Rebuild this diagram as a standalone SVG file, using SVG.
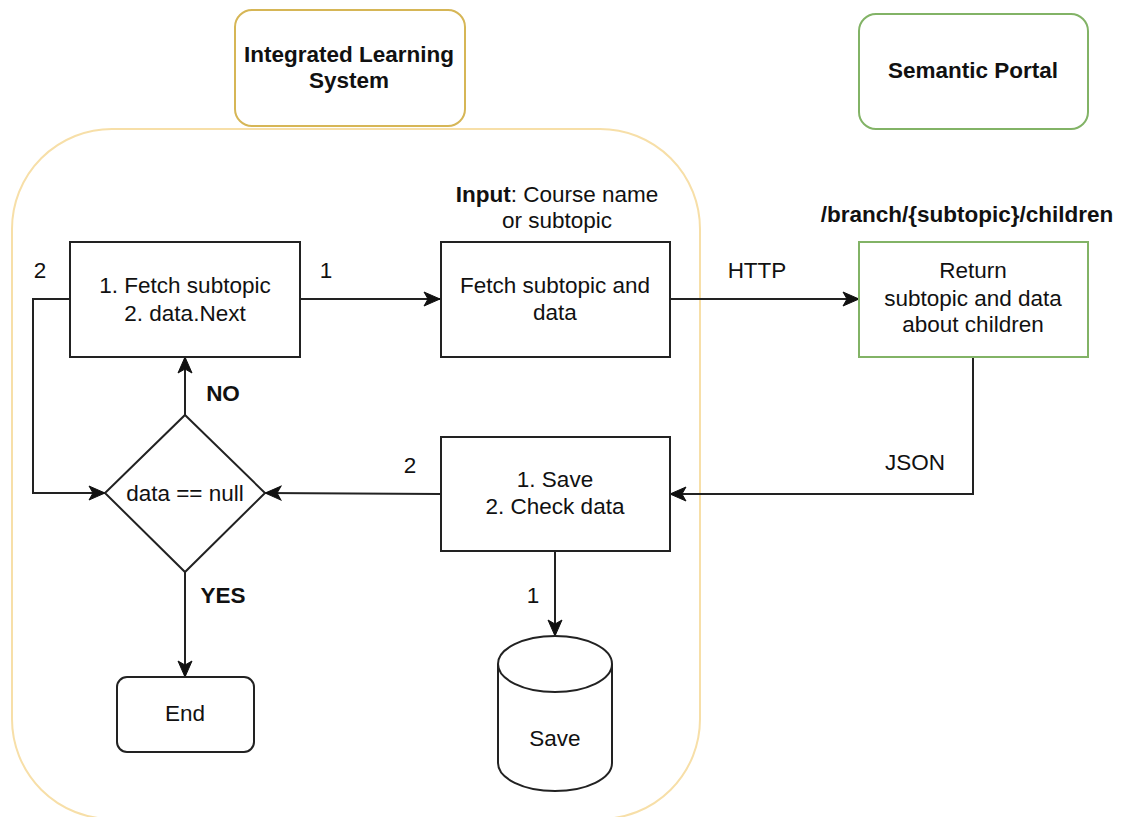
<svg xmlns="http://www.w3.org/2000/svg" width="1121" height="817" viewBox="0 0 1121 817">
  <style>
    text { font-family: "Liberation Sans", Arial, sans-serif; font-size: 22.5px; fill: #111; text-anchor: middle; }
    .b { font-weight: bold; }
    .box { fill: #fff; stroke: #222; stroke-width: 2; }
    .green { fill: #fff; stroke: #82b366; stroke-width: 2; }
    .gold { fill: #fff; stroke: #d6b656; stroke-width: 2; }
    .edge { fill: none; stroke: #222; stroke-width: 2; }
  </style>
  <defs>
    <marker id="arr" markerUnits="userSpaceOnUse" markerWidth="18" markerHeight="16" viewBox="0 0 18 16" refX="17" refY="8" orient="auto">
      <path d="M1,1 L17,8 L1,15 L5,8 Z" fill="#111" stroke="#111" stroke-width="1"/>
    </marker>
  </defs>
  <rect width="1121" height="817" fill="#fff"/>

  <g id="container">
    <rect x="12" y="129" width="688" height="690" rx="100" ry="100" fill="none" stroke="#f7dfa8" stroke-width="2"/>
  </g>

  <g id="ils-title">
    <rect class="gold" x="235" y="10" width="230" height="116" rx="17"/>
    <text class="b" x="349" y="62">Integrated Learning</text>
    <text class="b" x="349" y="88">System</text>
  </g>

  <g id="semantic-portal">
    <rect class="green" x="859" y="14" width="229" height="115" rx="17"/>
    <text class="b" x="973" y="78">Semantic Portal</text>
  </g>

  <g id="connectors">
    <path class="edge" d="M300,299 L440,299" marker-end="url(#arr)"/>
    <path class="edge" d="M670,299 L859,299" marker-end="url(#arr)"/>
    <path class="edge" d="M973,357 L973,494 L670,494" marker-end="url(#arr)"/>
    <path class="edge" d="M440,494 L265,493" marker-end="url(#arr)"/>
    <path class="edge" d="M70,299 L33,299 L33,493 L105,493" marker-end="url(#arr)"/>
    <path class="edge" d="M185,415 L185,357" marker-end="url(#arr)"/>
    <path class="edge" d="M185,572 L185,677" marker-end="url(#arr)"/>
    <path class="edge" d="M555,551 L555,636" marker-end="url(#arr)"/>
    <text x="326" y="278">1</text>
    <text x="40" y="278">2</text>
    <text x="757" y="278">HTTP</text>
    <text class="b" x="223" y="401">NO</text>
    <text class="b" x="223" y="603">YES</text>
    <text x="915" y="470">JSON</text>
    <text x="410" y="473">2</text>
    <text x="533" y="603">1</text>
  </g>

  <g id="fetch-next">
    <rect class="box" x="70" y="242" width="230" height="115"/>
    <text x="185" y="293">1. Fetch subtopic</text>
    <text x="185" y="321">2. data.Next</text>
  </g>

  <g id="input-label">
    <text x="557" y="202"><tspan class="b">Input</tspan>: Course name</text>
    <text x="557" y="228">or subtopic</text>
  </g>

  <g id="fetch-data">
    <rect class="box" x="441" y="242" width="229" height="115"/>
    <text x="555" y="293">Fetch subtopic and</text>
    <text x="555" y="320">data</text>
  </g>

  <g id="endpoint-label">
    <text class="b" x="967" y="222">/branch/{subtopic}/children</text>
  </g>

  <g id="return">
    <rect class="green" x="859" y="242" width="229" height="115"/>
    <text x="973" y="278">Return</text>
    <text x="973" y="306">subtopic and data</text>
    <text x="973" y="332">about children</text>
  </g>

  <g id="decision">
    <polygon class="box" points="185,415 265,493 185,572 105,493"/>
    <text x="185" y="501">data == null</text>
  </g>

  <g id="save-check">
    <rect class="box" x="441" y="437" width="229" height="114"/>
    <text x="555" y="487">1. Save</text>
    <text x="555" y="514">2. Check data</text>
  </g>

  <g id="end">
    <rect class="box" x="117" y="677" width="137" height="75" rx="10"/>
    <text x="185" y="721">End</text>
  </g>

  <g id="save-db">
    <path class="box" d="M498,664 A57,28 0 0 1 612,664 L612,763 A57,28 0 0 1 498,763 Z"/>
    <path class="edge" d="M498,664 A57,28 0 0 0 612,664"/>
    <text x="555" y="746">Save</text>
  </g>
</svg>
